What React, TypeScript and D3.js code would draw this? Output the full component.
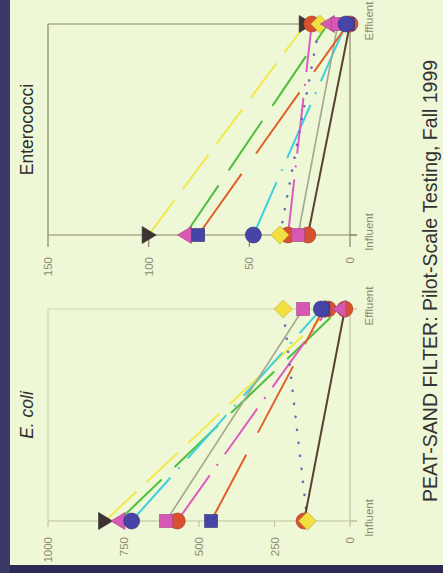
import React from "react";
import * as d3 from "d3";

// ---- data ----
const categories = ["Influent", "Effluent"];
const ecoliTicks = [0, 250, 500, 750, 1000];
const enteroTicks = [0, 50, 100, 150];
// series order: black ▶, pink ◀, blue ●, pink ■, red ● (a), blue ■, yellow ◆, red ● (b)
const ecoliInfluent = [811, 767, 723, 609, 572, 460, 141, 152];
const ecoliEffluent = [62, 35, 95, 155, 72, 88, 221, 17];
const enteroInfluent = [100, 82, 48, 25.8, 30.8, 75.4, 34.8, 20.9];
const enteroEffluent = [22, 11, 2, 6, 19, 1, 15, 0];
const mainTitle = "PEAT-SAND FILTER: Pilot-Scale Testing, Fall 1999";

// ---- styles ----
const markerShapes = ["triR", "triL", "circle", "square", "circle", "square", "diamond", "circle"];
const markerColors = ["#3d3432", "#d658b2", "#4644a6", "#d658b2", "#d9502e", "#4644a6", "#f2e040", "#d9502e"];
const lineColors = ["#f2e84a", "#4fbf3f", "#3fd0e0", "#a3a88e", "#dd5cbf", "#e0602c", "#6a6ac0", "#5c4032"];
const lineDash = ["43,14", "60,18", "58,12,2,12", null, "56,12,2,12", "75,25", "0.1,13", null];
const lineWidth = [2, 2, 2, 1.6, 2, 2, 2.6, 2];
const drawOrder = [0, 7, 4, 6, 1, 3, 5, 2];

const FONT = "'Liberation Sans', Arial, Helvetica, sans-serif";

function darker(c: string) {
  return d3.color(c)!.darker(0.8).formatHex();
}

function Marker({ shape, cx, cy, color }: { shape: string; cx: number; cy: number; color: string }) {
  const st = { fill: color, stroke: darker(color), strokeWidth: 0.6 };
  if (shape === "circle") return <circle cx={cx} cy={cy} r={8} {...st} />;
  if (shape === "square") return <rect x={cx - 6.5} y={cy - 6.5} width={13} height={13} {...st} />;
  if (shape === "diamond")
    return <polygon points={`${cx},${cy - 9} ${cx + 9},${cy} ${cx},${cy + 9} ${cx - 9},${cy}`} {...st} />;
  if (shape === "triR")
    return <polygon points={`${cx - 6.5},${cy - 8.5} ${cx + 7.5},${cy} ${cx - 6.5},${cy + 8.5}`} {...st} />;
  return <polygon points={`${cx + 6.5},${cy - 8.5} ${cx - 7.5},${cy} ${cx + 6.5},${cy + 8.5}`} {...st} />;
}

type PanelProps = {
  top: number;
  bottom: number;
  max: number;
  ticks: number[];
  influent: number[];
  effluent: number[];
  title: string;
  italic: boolean;
  frameColor: string;
  axisColor: string;
  tickLen: number;
  labelOffset: number;
};

function Panel(p: PanelProps) {
  const x = d3.scaleLinear().domain([0, p.max]).range([350, 48]);
  const y = d3.scalePoint<string>().domain(categories).range([p.bottom, p.top]);
  const line = d3
    .line<[string, number]>()
    .x((d) => x(d[1]))
    .y((d) => y(d[0])!);
  const series = p.influent.map((v, i) => [
    ["Influent", v],
    ["Effluent", p.effluent[i]],
  ] as [string, number][]);
  const labelColor = "#8c8a6c";
  return (
    <g>
      {/* frame */}
      <line x1={48} y1={p.top} x2={350} y2={p.top} stroke={p.frameColor} strokeWidth={1.2} />
      <line x1={48} y1={p.top} x2={48} y2={p.bottom} stroke={p.frameColor} strokeWidth={1.2} />
      <line x1={48} y1={p.bottom} x2={357} y2={p.bottom} stroke={p.axisColor} strokeWidth={1.2} />
      <line x1={350} y1={p.top} x2={350} y2={p.bottom} stroke={p.axisColor} strokeWidth={1.2} />
      {categories.map((c) => (
        <line key={c} x1={350} y1={y(c)!} x2={357} y2={y(c)!} stroke={p.axisColor} strokeWidth={1.2} />
      ))}
      {p.ticks.map((t) => (
        <g key={t}>
          <line x1={x(t)} y1={p.bottom} x2={x(t)} y2={p.bottom + p.tickLen} stroke={p.axisColor} strokeWidth={1.2} />
          <text
            transform={`translate(${x(t)},${p.bottom + p.labelOffset}) rotate(-90)`}
            textAnchor="end"
            dy="0.35em"
            fontSize={11.5}
            fontFamily={FONT}
            fill={labelColor}
          >
            {t}
          </text>
        </g>
      ))}
      {categories.map((c) => (
        <text
          key={c}
          transform={`translate(373,${y(c)! - 3}) rotate(-90)`}
          textAnchor="middle"
          fontSize={11.5}
          fontFamily={FONT}
          fill={labelColor}
        >
          {c}
        </text>
      ))}
      {/* lines */}
      {series.map((s, i) => (
        <path
          key={i}
          d={line(s)!}
          fill="none"
          stroke={lineColors[i]}
          strokeWidth={lineWidth[i]}
          strokeDasharray={lineDash[i] ?? undefined}
          strokeLinecap={lineDash[i] === "0.1,13" ? "round" : "butt"}
        />
      ))}
      {/* markers */}
      {drawOrder.map((i) =>
        series[i].map((d, j) => (
          <Marker key={`${i}-${j}`} shape={markerShapes[i]} cx={x(d[1])} cy={y(d[0])!} color={markerColors[i]} />
        ))
      )}
      {/* panel title */}
      <text
        transform={`translate(27,${(p.top + p.bottom) / 2}) rotate(-90)`}
        textAnchor="middle"
        dy="0.35em"
        fontSize={17.5}
        fontStyle={p.italic ? "italic" : "normal"}
        fontFamily={FONT}
        fill="#2e2e2e"
      >
        {p.title}
      </text>
    </g>
  );
}

export default function App() {
  return (
    <svg
      width={443}
      height={573}
      style={{ position: "absolute", left: 0, top: 0, display: "block" }}
    >
      <rect x={0} y={0} width={443} height={573} fill="#2c2a55" />
      <rect x={0} y={0} width={10} height={573} fill="#3a3a68" />
      <rect x={10} y={0} width={433} height={565} fill="#eef7d6" />
      <Panel
        top={309}
        bottom={521}
        max={1000}
        ticks={ecoliTicks}
        influent={ecoliInfluent}
        effluent={ecoliEffluent}
        title="E. coli"
        italic={true}
        frameColor="#d3d5ad"
        axisColor="#c2c19c"
        tickLen={6}
        labelOffset={16}
      />
      <Panel
        top={24}
        bottom={235}
        max={150}
        ticks={enteroTicks}
        influent={enteroInfluent}
        effluent={enteroEffluent}
        title="Enterococci"
        italic={false}
        frameColor="#8f8466"
        axisColor="#8f8466"
        tickLen={12}
        labelOffset={22}
      />
      <text
        transform={`translate(430,281) rotate(-90)`}
        textAnchor="middle"
        dy="0.35em"
        fontSize={19.5}
        fontFamily={FONT}
        fill="#333333"
      >
        {mainTitle}
      </text>
    </svg>
  );
}
